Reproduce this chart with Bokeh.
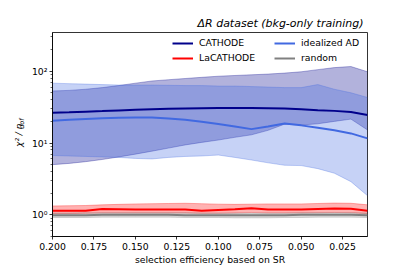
import numpy as np
from bokeh.plotting import figure
from bokeh.layouts import row
from bokeh.models import Range1d, FixedTicker, Legend, LegendItem, Label, PrintfTickFormatter
from bokeh.embed import file_html
from bokeh.resources import INLINE

# ---- data ----
eff = [0.20, 0.19, 0.18, 0.17, 0.16, 0.15, 0.14, 0.13, 0.12, 0.11,
       0.10, 0.09, 0.08, 0.07, 0.06, 0.05, 0.04, 0.03, 0.02, 0.01]

cath_med = [26.4, 26.8, 27.3, 27.8, 28.4, 29.0, 29.5, 29.9, 30.2, 30.4,
            30.6, 30.7, 30.6, 30.4, 30.1, 29.5, 28.6, 28.0, 27.0, 24.5]
cath_hi = [53, 54, 56, 59, 63, 68, 73, 76, 79, 82,
           85, 87, 89, 91, 94, 98, 105, 112, 116, 98]
cath_lo = [5.0, 5.2, 5.5, 5.9, 6.4, 7.0, 7.7, 8.5, 9.4, 10.2,
           11.0, 12.0, 13.0, 15.0, 18.3, 17.8, 18.5, 20.0, 21.5, 15.2]

ideal_med = [20.4, 21.0, 21.6, 22.1, 22.5, 22.7, 22.6, 22.0, 21.0, 19.8,
             18.4, 17.0, 15.6, 17.0, 18.7, 17.6, 16.3, 15.0, 13.6, 11.6]
ideal_hi = [68, 67, 66, 65, 64, 64, 64, 63.5, 63, 63,
            62, 62, 61, 60, 59, 59, 65, 56, 50, 43]
ideal_lo = [6.7, 6.6, 6.5, 6.4, 6.3, 6.1, 6.0, 6.3, 6.5, 6.6,
            6.8, 6.3, 5.8, 5.3, 4.9, 4.85, 4.4, 3.8, 2.9, 1.85]

laca_med = [1.14, 1.14, 1.14, 1.21, 1.20, 1.19, 1.19, 1.19, 1.19, 1.14,
            1.17, 1.20, 1.24, 1.19, 1.19, 1.19, 1.21, 1.23, 1.22, 1.14]
laca_hi = [1.33, 1.34, 1.35, 1.38, 1.40, 1.42, 1.43, 1.44, 1.45, 1.43,
           1.41, 1.40, 1.41, 1.42, 1.42, 1.42, 1.44, 1.46, 1.45, 1.38]
laca_lo = [1.04, 1.04, 1.05, 1.06, 1.06, 1.06, 1.06, 1.06, 1.06, 1.05,
           1.05, 1.06, 1.08, 1.06, 1.06, 1.06, 1.07, 1.08, 1.07, 1.04]

rand_med = [0.99, 0.99, 0.99, 1.0, 1.0, 1.0, 1.0, 1.0, 0.99, 0.99,
            0.99, 0.99, 0.99, 0.99, 0.99, 1.0, 1.0, 1.0, 1.0, 0.99]
rand_hi = [1.06, 1.06, 1.07, 1.07, 1.07, 1.07, 1.07, 1.07, 1.07, 1.06,
           1.06, 1.06, 1.06, 1.06, 1.06, 1.07, 1.07, 1.07, 1.07, 1.06]
rand_lo = [0.92, 0.92, 0.92, 0.93, 0.93, 0.93, 0.93, 0.93, 0.92, 0.92,
           0.92, 0.91, 0.91, 0.91, 0.92, 0.92, 0.93, 0.93, 0.93, 0.92]

x_ticks = [0.200, 0.175, 0.150, 0.125, 0.100, 0.075, 0.050, 0.025]
y_ticks = [1, 10, 100]
y_tick_labels = {1: "10⁰", 10: "10¹", 100: "10²"}

FONT = "DejaVu Sans"
C_CATH = "#00008B"
C_LACA = "#FF0000"
C_IDEAL = "#4169E1"
C_RAND = "#808080"

LAB_W = 28
TOTAL_W, TOTAL_H = 407, 271

p = figure(width=TOTAL_W - LAB_W, height=TOTAL_H, y_axis_type="log",
           x_range=Range1d(0.2, 0.01), y_range=Range1d(0.5, 345),
           output_backend="svg", toolbar_location=None,
           min_border_left=50 - LAB_W, min_border_right=40,
           min_border_top=32, min_border_bottom=35,
           background_fill_color="white", border_fill_color="white")

p.xgrid.visible = False
p.ygrid.visible = False
p.outline_line_color = "black"
p.outline_line_width = 0.8

# bands
def band(lo, hi, color):
    p.varea(x=eff, y1=lo, y2=hi, fill_color=color, fill_alpha=0.3)
    p.line(eff, hi, line_color=color, line_alpha=0.3, line_width=1)
    p.line(eff, lo, line_color=color, line_alpha=0.3, line_width=1)

band(cath_lo, cath_hi, C_CATH)
band(laca_lo, laca_hi, C_LACA)
band(ideal_lo, ideal_hi, C_IDEAL)
band(rand_lo, rand_hi, C_RAND)

r_cath = p.line(eff, cath_med, line_color=C_CATH, line_width=2)
r_laca = p.line(eff, laca_med, line_color=C_LACA, line_width=2)
r_ideal = p.line(eff, ideal_med, line_color=C_IDEAL, line_width=2)
r_rand = p.line(eff, rand_med, line_color=C_RAND, line_width=2)

# axes
minor_y = []
for d in [0.1, 1, 10, 100]:
    for k in range(2, 10):
        v = k * d
        if 0.5 <= v <= 345:
            minor_y.append(v)

for ax in (p.xaxis[0], p.yaxis[0]):
    ax.axis_line_width = 0.8
    ax.major_tick_line_width = 0.8
    ax.minor_tick_line_width = 0.6
    ax.major_tick_out = 3
    ax.major_tick_in = 0
    ax.minor_tick_out = 2
    ax.minor_tick_in = 0
    ax.major_label_text_font = FONT
    ax.major_label_text_font_size = "9.3px"
    ax.major_label_text_color = "black"
    ax.axis_label_text_font = FONT
    ax.axis_label_text_font_size = "9.3px"
    ax.axis_label_text_font_style = "normal"
    ax.axis_label_text_color = "black"

p.xaxis[0].ticker = FixedTicker(ticks=x_ticks, minor_ticks=[])
p.xaxis[0].formatter = PrintfTickFormatter(format="%.3f")
p.xaxis[0].major_label_standoff = 3
p.xaxis[0].axis_label = "selection efficiency based on SR"
p.xaxis[0].axis_label_standoff = 1

p.yaxis[0].ticker = FixedTicker(ticks=y_ticks, minor_ticks=minor_y)
p.yaxis[0].major_label_overrides = y_tick_labels
p.yaxis[0].major_label_standoff = 2

# title
p.title.text = "ΔR dataset (bkg-only training)"
p.title.align = "right"
p.title.text_font = FONT
p.title.text_font_style = "italic"
p.title.text_font_size = "11px"
p.title.text_color = "black"
p.title.standoff = 5
p.title.offset = 4

def make_legend(items, loc):
    lg = Legend(items=items, location=loc)
    lg.border_line_alpha = 0
    lg.background_fill_alpha = 0
    lg.padding = 0
    lg.margin = 0
    lg.spacing = 4
    lg.glyph_height = 10
    lg.glyph_width = 21
    lg.label_height = 10
    lg.label_standoff = 6
    lg.label_text_font = FONT
    lg.label_text_font_size = "9.3px"
    lg.label_text_color = "black"
    return lg

p.add_layout(make_legend([LegendItem(label="CATHODE", renderers=[r_cath]),
                          LegendItem(label="LaCATHODE", renderers=[r_laca])], (120, 173)))
p.add_layout(make_legend([LegendItem(label="idealized AD", renderers=[r_ideal]),
                          LegendItem(label="random", renderers=[r_rand])], (222, 173)))

# y-axis label panel (chi^2 / n_dof) to the left of the plot
lab = figure(width=LAB_W, height=TOTAL_H, x_range=Range1d(0, LAB_W), y_range=Range1d(0, TOTAL_H),
             output_backend="svg", toolbar_location=None, min_border=0,
             background_fill_color="white", border_fill_color="white")
lab.axis.visible = False
lab.xgrid.visible = False
lab.ygrid.visible = False
lab.outline_line_color = None
lab.add_layout(Label(x=18, y=TOTAL_H - 152, text="χ² / n", angle=np.pi / 2, text_font=FONT,
                     text_font_style="italic", text_font_size="9px",
                     text_align="left", text_baseline="middle", text_color="black"))
lab.add_layout(Label(x=21, y=TOTAL_H - 152 + 24, text="dof", angle=np.pi / 2, text_font=FONT,
                     text_font_style="italic", text_font_size="6.5px",
                     text_align="left", text_baseline="middle", text_color="black"))

layout = row(lab, p, spacing=0)
open("out.html", "w").write(file_html(layout, INLINE))
